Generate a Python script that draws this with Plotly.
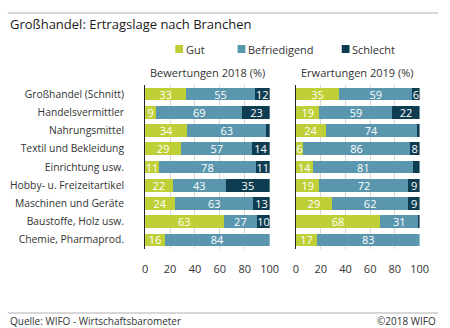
import plotly.graph_objects as go

# Branchen (top to bottom)
branchen = [
    "Großhandel (Schnitt)",
    "Handelsvermittler",
    "Nahrungsmittel",
    "Textil und Bekleidung",
    "Einrichtung usw.",
    "Hobby- u. Freizeitartikel",
    "Maschinen und Geräte",
    "Baustoffe, Holz usw.",
    "Chemie, Pharmaprod.",
]

# Bewertungen 2018 (%)
gut_2018 = [33, 9, 34, 29, 11, 22, 24, 63, 16]
befr_2018 = [55, 69, 63, 57, 78, 43, 63, 27, 84]
schl_2018 = [12, 23, 3, 14, 11, 35, 13, 10, 0]

# Erwartungen 2019 (%)
gut_2019 = [35, 19, 24, 6, 14, 19, 29, 68, 17]
befr_2019 = [59, 59, 74, 86, 81, 72, 62, 31, 83]
schl_2019 = [6, 22, 2, 8, 5, 9, 9, 1, 0]

x_ticks = [0, 20, 40, 60, 80, 100]

serien = ["Gut", "Befriedigend", "Schlecht"]
farben = ["#bfcf38", "#5a97ae", "#0e3d51"]

W, H = 450, 328
FONT = "Open Sans"
TXT = "#333333"


def px(x):
    return x / W


def py(y):
    return 1 - y / H


def label(v):
    return str(v) if v >= 6 else ""


fig = go.Figure()
y_pos = list(range(len(branchen)))

panels = [
    ("x", "y", [gut_2018, befr_2018, schl_2018]),
    ("x2", "y2", [gut_2019, befr_2019, schl_2019]),
]
for xa, ya, reihen in panels:
    for name, col, vals in zip(serien, farben, reihen):
        fig.add_trace(go.Bar(
            x=vals, y=y_pos, orientation="h", name=name,
            marker=dict(color=col, line=dict(width=0)),
            text=[label(v) for v in vals],
            textposition="inside", insidetextanchor="middle", textangle=0,
            textfont=dict(color="white", size=11, family=FONT),
            xaxis=xa, yaxis=ya, showlegend=False,
            hoverinfo="skip",
        ))

x_common = dict(
    range=[0, 100], tickvals=x_ticks, showgrid=True, gridcolor="#d6d6d6",
    gridwidth=1, zeroline=False, showline=False, ticks="",
    ticklabelstandoff=12, tickfont=dict(size=11, color=TXT, family=FONT),
    fixedrange=True,
)
y_common = dict(
    range=[len(branchen) - 0.5, -0.5], showgrid=False, zeroline=False,
    showline=True, linecolor="#222222", linewidth=1,
    domain=[py(249), py(85)], fixedrange=True,
)

fig.update_layout(
    width=W, height=H, margin=dict(l=0, r=0, t=0, b=0),
    paper_bgcolor="white", plot_bgcolor="white",
    barmode="stack", bargap=0.3,
    font=dict(family=FONT, color=TXT, size=11),
    showlegend=False,
    uniformtext=dict(minsize=11, mode="show"),
    xaxis=dict(domain=[px(146), px(274)], anchor="y", **x_common),
    xaxis2=dict(domain=[px(301), px(428)], anchor="y2", **x_common),
    # invisible outside ticks push the category labels away from the axis
    yaxis=dict(anchor="x", tickvals=y_pos, ticktext=branchen,
               ticks="outside", ticklen=18, tickcolor="rgba(0,0,0,0)",
               tickfont=dict(size=10.3, color=TXT, family=FONT), **y_common),
    yaxis2=dict(anchor="x2", showticklabels=False, ticks="", **y_common),
)

shapes = [
    dict(type="line", xref="paper", yref="paper", x0=px(5), x1=px(447),
         y0=py(13), y1=py(13), line=dict(color="#b0b0b0", width=1)),
    dict(type="line", xref="paper", yref="paper", x0=px(5), x1=px(447),
         y0=py(313), y1=py(313), line=dict(color="#b0b0b0", width=1)),
]


def note(text, x, y, anchor, size=11, color=TXT):
    return dict(text=text, xref="paper", yref="paper", x=px(x), y=py(y),
                xanchor=anchor, yanchor="middle", showarrow=False,
                font=dict(size=size, color=color, family=FONT))


annotations = [
    note("Großhandel: Ertragslage nach Branchen", 5, 24, "left", 13, "#1a1a1a"),
    note("Bewertungen 2018 (%)", 210, 73, "center"),
    note("Erwartungen 2019 (%)", 364, 73, "center"),
    note("Quelle: WIFO - Wirtschaftsbarometer", 5, 321, "left", 10),
    note("©2018 WIFO", 447, 321, "right", 10),
]

# Legend: colour squares with labels
legend_x = [177, 241, 348]
for name, col, lx in zip(serien, farben, legend_x):
    shapes.append(dict(type="rect", xref="paper", yref="paper",
                       x0=px(lx), x1=px(lx + 8), y0=py(53), y1=py(45),
                       fillcolor=col, line=dict(width=0)))
    annotations.append(note(name, lx + 9, 49, "left"))

fig.update_layout(shapes=shapes, annotations=annotations)
fig.write_html("out.html")
